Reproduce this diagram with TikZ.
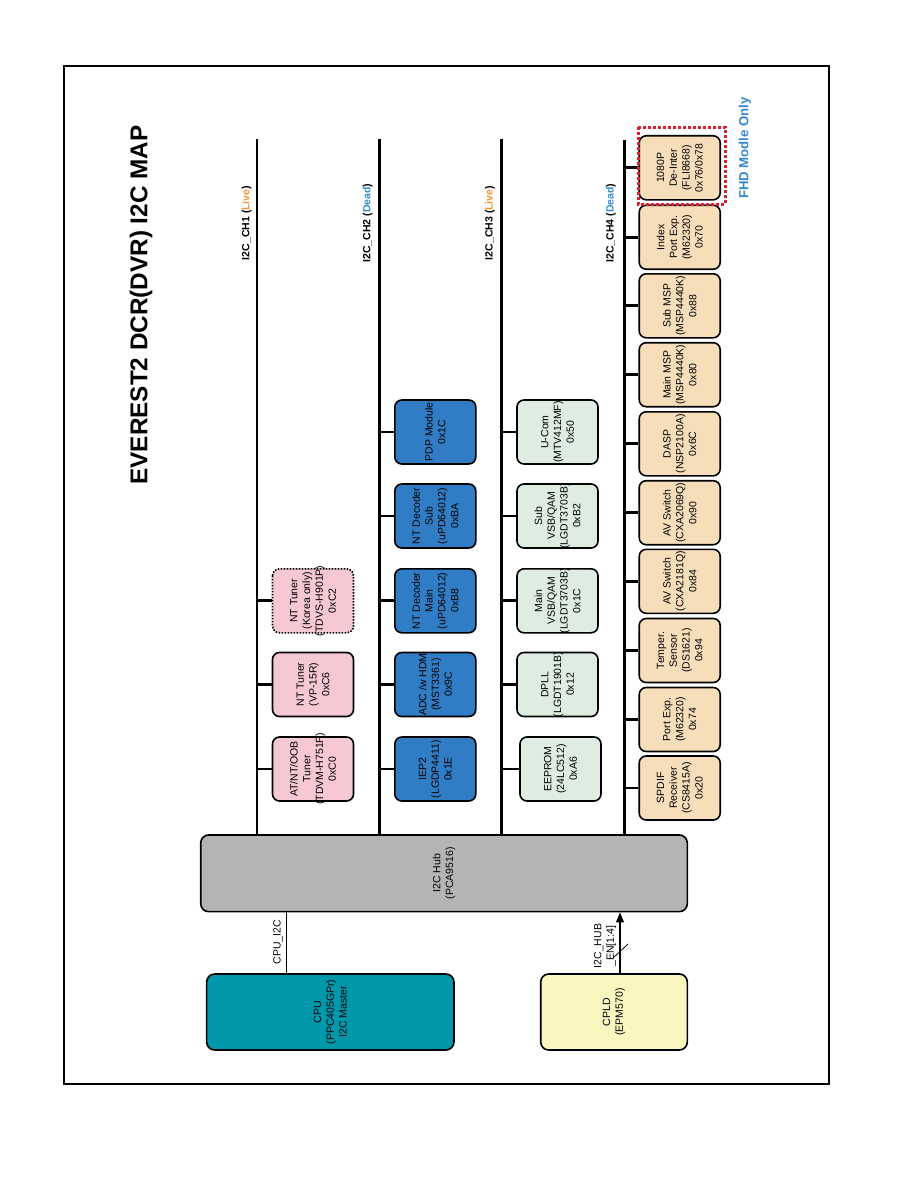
\documentclass[tikz,border=0pt]{standalone}
\usepackage{fontspec}
\setmainfont{Liberation Sans}
\usetikzlibrary{arrows.meta}
\definecolor{pinkc}{RGB}{245,200,211}
\definecolor{bluec}{RGB}{48,125,197}
\definecolor{greenc}{RGB}{222,236,226}
\definecolor{tanc}{RGB}{247,222,186}
\definecolor{cpuc}{RGB}{0,152,170}
\definecolor{cpldc}{RGB}{250,246,192}
\definecolor{hubc}{RGB}{180,180,180}
\definecolor{livec}{RGB}{243,150,50}
\definecolor{deadc}{RGB}{55,140,210}
\definecolor{fhdc}{RGB}{55,135,205}
\definecolor{redc}{RGB}{222,30,45}
\tikzset{
  box/.style={draw, line width=1.6pt, rounded corners=7pt, rotate=90,
    minimum width=64pt, minimum height=81pt, inner sep=0pt},
  boxtxt/.style={rotate=90, align=center, inner sep=0pt,
    font=\fontsize{10.5}{12.8}\selectfont},
  bigbox/.style={draw, line width=1.6pt, rounded corners=8pt, rotate=90, inner sep=0pt},
  bus/.style={line width=2.6pt},
  stub/.style={line width=2.8pt},
  chlabel/.style={rotate=90, font=\bfseries\fontsize{10.5}{12}\selectfont, inner sep=0pt},
  sig/.style={line width=1.2pt},
  siglabel/.style={rotate=90, align=center, inner sep=0pt, font=\fontsize{10.5}{12.5}\selectfont}
}
\newcommand\dev[4]{%
  \node[box, fill=#2] (#1) at (#3) {};
  \node[boxtxt] (#1t) at (#1.center) {#4};}
\begin{document}
\begin{tikzpicture}[x=1pt, y=-1pt]
\useasboundingbox (0,0) rectangle (918,1188);
\fill[white] (0,0) rectangle (918,1188);
% frame
\draw[line width=1.3pt] (64,66) rectangle (829,1084);

% title
\node[rotate=90, font=\bfseries\fontsize{24.3}{28}\selectfont, inner sep=0pt] (title) at (141,305) {EVEREST2 DCR(DVR) I2C MAP};
\node[rotate=90, font=\bfseries\fontsize{13.2}{15}\selectfont, text=fhdc, inner sep=0pt] (fhd) at (745,148) {FHD Modle Only};

% hub, cpu, cpld
\node[bigbox, fill=hubc, minimum width=76.7pt, minimum height=486.6pt] (hub) at (444,873.3) {};
\node[boxtxt] (hubt) at (hub.center) {I2C Hub\\(PCA9516)};
\node[bigbox, fill=cpuc, minimum width=76pt, minimum height=247.3pt] (cpu) at (330.3,1012) {};
\node[boxtxt] (cput) at (cpu.center) {CPU\\(PPC405GPr)\\I2C Master};
\node[bigbox, fill=cpldc, minimum width=76pt, minimum height=146.6pt] (cpld) at (614,1012) {};
\node[boxtxt] (cpldt) at (cpld.center) {CPLD\\(EPM570)};

% cpu to hub
\coordinate (cpux) at (286.7,0);
\draw[sig] (cpu.east -| cpux) -- (hub.west -| cpux);
\node[siglabel] (cpulbl) at (278,942) {CPU\_I2C};
% cpld to hub
\coordinate (enx) at (620,0);
\draw[sig, -{Triangle[length=10pt, width=8pt]}] (cpld.east -| enx) -- (hub.west -| enx);
\coordinate (sl1) at (613,958);
\coordinate (sl2) at (628,944);
\draw[line width=0.8pt] (sl1) -- (sl2);
\node[siglabel] (enlbl) at (605,946) {I2C\_HUB\\\_EN[1:4]};

% channel buses
\coordinate (c1) at (257,139);
\coordinate (c2) at (379.5,139);
\coordinate (c3) at (501.7,139);
\coordinate (c4) at (624.5,140);
\foreach \c in {c1,c2,c3,c4} \draw[bus] (\c) -- (\c |- hub.east);

\node[chlabel] (l1) at (246.7,223) {I2C\_CH1 (\textcolor{livec}{Live})};
\node[chlabel] (l2) at (367.7,223) {I2C\_CH2 (\textcolor{deadc}{Dead})};
\node[chlabel] (l3) at (490,223) {I2C\_CH3 (\textcolor{livec}{Live})};
\node[chlabel] (l4) at (611,223) {I2C\_CH4 (\textcolor{deadc}{Dead})};

% CH1
\dev{a1}{pinkc}{313,769}{AT/NT/OOB\\Tuner\\(TDVM-H751F)\\0xC0}
\dev{a2}{pinkc}{313,684.5}{NT Tuner\\(VP-15R)\\0xC6}
\node[box, fill=pinkc, dash pattern=on 1.6pt off 1.4pt] (a3) at (313,600.8) {};
\node[boxtxt] (a3t) at (a3.center) {NT Tuner\\(Korea only)\\(TDVS-H901P)\\0xC2};
\foreach \b in {a1,a2,a3} \draw[stub] (\b.north) -- (\b.north -| c1);

% CH2
\dev{b1}{bluec}{435.3,769}{IEP2\\(LGDP4411)\\0x1E}
\dev{b2}{bluec}{435.3,684.5}{ADC /w HDM\\(MST3361)\\0x9C}
\dev{b3}{bluec}{435.3,600.8}{NT Decoder\\Main\\(uPD64012)\\0xB8}
\dev{b4}{bluec}{435.3,516}{NT Decoder\\Sub\\(uPD64012)\\0xBA}
\dev{b5}{bluec}{435.3,432}{PDP Module\\0x1C}
\foreach \b in {b1,b2,b3,b4,b5} \draw[stub] (\b.north) -- (\b.north -| c2);

% CH3
\dev{d1}{greenc}{560.5,769}{EEPROM\\(24LC512)\\0xA6}
\dev{d2}{greenc}{557.5,684.5}{DPLL\\(LGDT1901B)\\0x12}
\dev{d3}{greenc}{557.5,600.8}{Main\\VSB/QAM\\(LGDT3703B)\\0x1C}
\dev{d4}{greenc}{557.5,516}{Sub\\VSB/QAM\\(LGDT3703B)\\0xB2}
\dev{d5}{greenc}{557.5,432}{U-Com\\(MTV412MF)\\0x50}
\foreach \b in {d1,d2,d3,d4,d5} \draw[stub] (\b.north) -- (\b.north -| c3);

% CH4
\dev{e1}{tanc}{679.7,788}{SPDIF\\Receiver\\(CS8415A)\\0x20}
\dev{e2}{tanc}{679.7,719.5}{Port Exp.\\(M62320)\\0x74}
\dev{e3}{tanc}{679.7,650.5}{Temper.\\Sensor\\(DS1621)\\0x94}
\dev{e4}{tanc}{679.7,581.3}{AV Switch\\(CXA2181Q)\\0x84}
\dev{e5}{tanc}{679.7,512.7}{AV Switch\\(CXA2069Q)\\0x90}
\dev{e6}{tanc}{679.7,443.8}{DASP\\(NSP2100A)\\0x6C}
\dev{e7}{tanc}{679.7,374.7}{Main MSP\\(MSP4440K)\\0x80}
\dev{e8}{tanc}{679.7,305.8}{Sub MSP\\(MSP4440K)\\0x88}
\dev{e9}{tanc}{679.7,237.2}{Index\\Port Exp.\\(M62320)\\0x70}
\dev{e10}{tanc}{679.7,167.8}{1080P\\De-Inter\\(FLI8668)\\0x76/0x78}
\foreach \b in {e1,e2,e3,e4,e5,e6,e7,e8,e9,e10} \draw[stub] (\b.north) -- (\b.north -| c4);
% FHD highlight
\draw[redc, line width=3pt, dash pattern=on 3pt off 2pt] (638.3,127.3) rectangle (725,204.3);
\end{tikzpicture}
\end{document}
